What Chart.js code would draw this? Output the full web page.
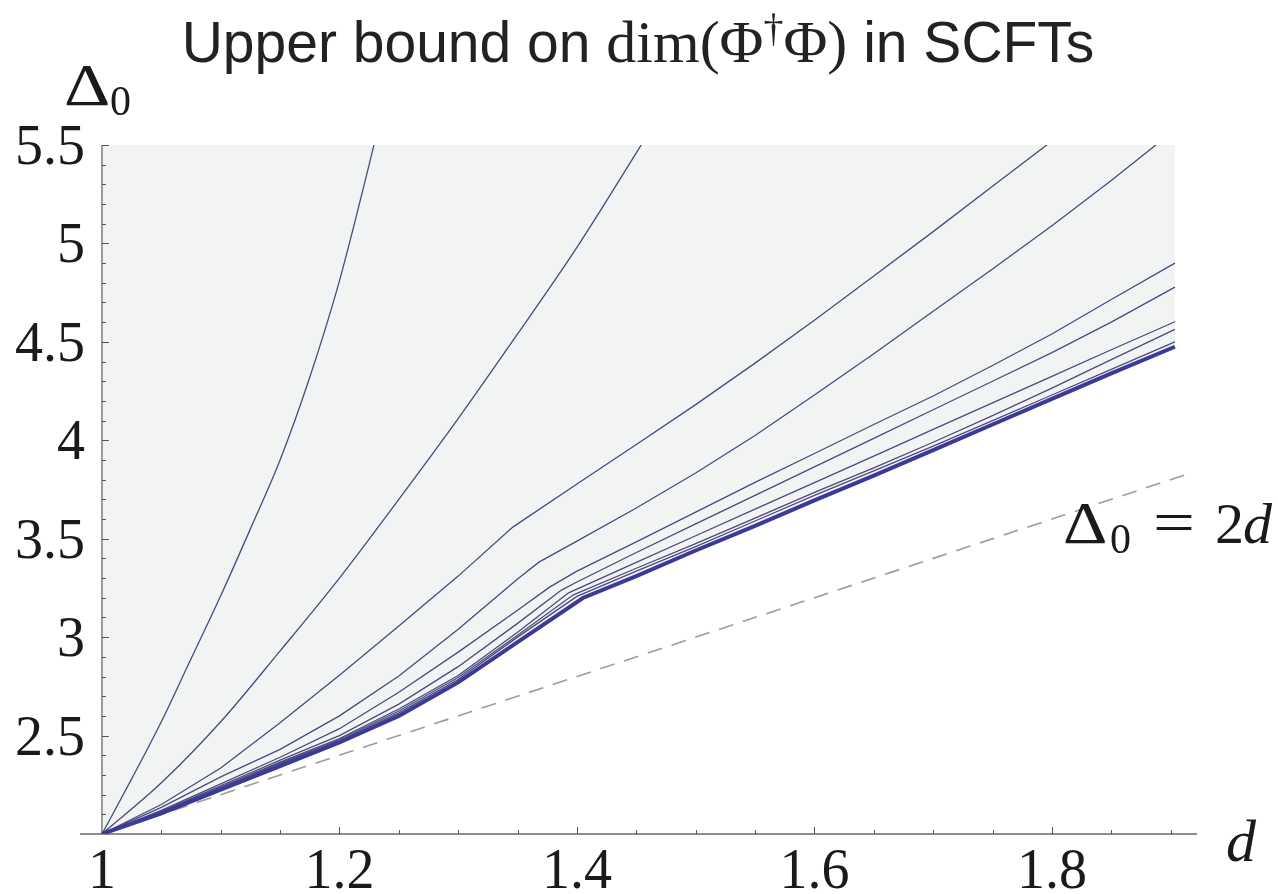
<!DOCTYPE html>
<html lang="en">
<head>
    <meta charset="UTF-8">
    <title>Upper bound on dim(Φ†Φ) in SCFTs</title>
    <script src="https://cdn.jsdelivr.net/npm/chart.js@4.4.1/dist/chart.umd.min.js"></script>
    <style>
        html, body { margin: 0; padding: 0; background: #fff; }
        canvas { display: block; }
    </style>
</head>
<body>
    <canvas id="boundChart" width="1278" height="894"></canvas>

    <script>
        // Bounds on Δ0 as a function of d, one curve per truncation order
        const line1 = [[1, 2], [1.025, 2.28], [1.05, 2.57], [1.075, 2.89], [1.1, 3.21], [1.125, 3.55], [1.15, 3.90], [1.175, 4.32], [1.2, 4.81], [1.225, 5.40], [1.25, 6.02]];
        const line2 = [[1, 2], [1.05, 2.26], [1.1, 2.57], [1.15, 2.93], [1.2, 3.30], [1.25, 3.70], [1.3, 4.11], [1.35, 4.54], [1.4, 4.98], [1.45, 5.46], [1.5, 5.95]];
        const line3 = [[1, 2], [1.05, 2.15], [1.1, 2.335], [1.15, 2.565], [1.2, 2.806], [1.25, 3.056], [1.3, 3.31], [1.346, 3.559], [1.4, 3.778], [1.45, 3.979], [1.5, 4.181], [1.55, 4.392], [1.6, 4.61], [1.65, 4.835], [1.7, 5.06], [1.75, 5.29], [1.8, 5.52], [1.85, 5.75]];
        const line4 = [[1, 2], [1.05, 2.135], [1.1, 2.29], [1.15, 2.43], [1.2, 2.60], [1.25, 2.803], [1.3, 3.04], [1.35, 3.295], [1.368, 3.381], [1.4, 3.488], [1.45, 3.656], [1.5, 3.834], [1.55, 4.024], [1.6, 4.23], [1.65, 4.44], [1.7, 4.655], [1.75, 4.87], [1.8, 5.09], [1.85, 5.32], [1.9, 5.56]];
        const line5 = [[1, 2], [1.05, 2.12], [1.1, 2.255], [1.15, 2.39], [1.2, 2.535], [1.25, 2.72], [1.3, 2.924], [1.35, 3.137], [1.377, 3.254], [1.4, 3.335], [1.45, 3.484], [1.5, 3.635], [1.55, 3.786], [1.6, 3.933], [1.65, 4.08], [1.7, 4.225], [1.75, 4.38], [1.8, 4.54], [1.85, 4.715], [1.9036, 4.90]];
        const line6 = [[1, 2], [1.05, 2.115], [1.1, 2.245], [1.15, 2.375], [1.2, 2.50], [1.25, 2.66], [1.3, 2.85], [1.35, 3.07], [1.387, 3.239], [1.4, 3.28], [1.45, 3.43], [1.5, 3.575], [1.55, 3.72], [1.6, 3.865], [1.65, 4.01], [1.7, 4.155], [1.75, 4.30], [1.8, 4.445], [1.85, 4.60], [1.9036, 4.778]];
        const line7 = [[1, 2], [1.05, 2.112], [1.1, 2.24], [1.15, 2.365], [1.2, 2.485], [1.25, 2.635], [1.3, 2.805], [1.35, 3.025], [1.393, 3.225], [1.45, 3.38], [1.5, 3.515], [1.55, 3.65], [1.6, 3.785], [1.65, 3.92], [1.7, 4.055], [1.75, 4.19], [1.8, 4.325], [1.85, 4.46], [1.9036, 4.602]];
        const line8 = [[1, 2], [1.05, 2.11], [1.1, 2.235], [1.15, 2.36], [1.2, 2.48], [1.25, 2.625], [1.3, 2.795], [1.35, 3.01], [1.397, 3.215], [1.45, 3.35], [1.5, 3.475], [1.55, 3.605], [1.6, 3.735], [1.65, 3.86], [1.7, 3.99], [1.75, 4.125], [1.8, 4.265], [1.85, 4.41], [1.9036, 4.563]];
        const line9 = [[1, 2], [1.05, 2.108], [1.1, 2.23], [1.15, 2.355], [1.2, 2.475], [1.25, 2.615], [1.3, 2.785], [1.35, 3.00], [1.40, 3.207], [1.45, 3.335], [1.5, 3.46], [1.55, 3.59], [1.6, 3.72], [1.65, 3.845], [1.7, 3.97], [1.75, 4.10], [1.8, 4.23], [1.85, 4.36], [1.9036, 4.50]];
        // strongest bound (thick curve), region above it is excluded
        const bestBound = [[1, 2], [1.05, 2.105], [1.1, 2.225], [1.15, 2.345], [1.2, 2.465], [1.25, 2.60], [1.3, 2.77], [1.35, 2.975], [1.405, 3.199], [1.45, 3.31], [1.5, 3.44], [1.55, 3.565], [1.6, 3.695], [1.65, 3.82], [1.7, 3.95], [1.75, 4.08], [1.8, 4.21], [1.85, 4.34], [1.9036, 4.475]];
        // free-theory line Δ0 = 2d
        const freeLine = [[1, 2], [1.912, 3.824]];

        const xTickValues = [1, 1.2, 1.4, 1.6, 1.8];
        const xTickLabels = ['1', '1.2', '1.4', '1.6', '1.8'];
        const yTickValues = [2.5, 3, 3.5, 4, 4.5, 5, 5.5];
        const yTickLabels = ['2.5', '3', '3.5', '4', '4.5', '5', '5.5'];

        const SERIF = '"Liberation Serif", "DejaVu Serif", serif';
        const SANS = '"Liberation Sans", "DejaVu Sans", sans-serif';
        const thinColor = '#4a4a7c';

        const toPoints = arr => arr.map(([x, y]) => ({x, y}));

        // text stretched horizontally (CM capitals are wider than Times)
        function wideText(ctx, text, x, y, font, sx) {
            ctx.save();
            ctx.font = font;
            ctx.translate(x, y);
            ctx.scale(sx, 1);
            ctx.fillText(text, 0, 0);
            ctx.restore();
        }

        // Axes through the origin (1, 2) with inward ticks, drawn like a Mathematica plot
        const mathAxes = {
            id: 'mathAxes',
            beforeDatasetsDraw(chart) {
                const {ctx, scales: {x, y}} = chart;
                const ox = x.getPixelForValue(1);
                const oy = y.getPixelForValue(2);
                ctx.save();
                ctx.strokeStyle = '#6a6a6a';
                ctx.lineWidth = 1.3;
                ctx.beginPath();
                ctx.moveTo(x.left, oy);
                ctx.lineTo(x.right, oy);
                ctx.moveTo(ox, oy);
                ctx.lineTo(ox, y.top);
                ctx.stroke();

                ctx.lineWidth = 1;
                ctx.strokeStyle = '#555';
                ctx.beginPath();
                for (let i = 21; i <= 38; i++) {
                    const px = Math.round(x.getPixelForValue(i / 20)) + 0.5;
                    const len = i % 4 === 0 ? 7 : 4;
                    ctx.moveTo(px, oy);
                    ctx.lineTo(px, oy - len);
                }
                for (let i = 21; i <= 55; i++) {
                    const py = Math.round(y.getPixelForValue(i / 10)) + 0.5;
                    const len = i % 5 === 0 ? 7 : 4;
                    ctx.moveTo(ox, py);
                    ctx.lineTo(ox + len, py);
                }
                ctx.stroke();
                ctx.restore();
            },
            afterDraw(chart) {
                const {ctx, scales: {x, y}} = chart;
                const ox = x.getPixelForValue(1);
                ctx.save();
                ctx.fillStyle = '#1a1a1a';
                ctx.textBaseline = 'alphabetic';

                // tick labels
                ctx.font = `56px ${SERIF}`;
                ctx.textAlign = 'right';
                yTickValues.forEach((v, i) => {
                    ctx.fillText(yTickLabels[i], ox - 17, y.getPixelForValue(v) + 19);
                });
                ctx.textAlign = 'center';
                xTickValues.forEach((v, i) => {
                    ctx.fillText(xTickLabels[i], x.getPixelForValue(v), 888);
                });

                // axis labels
                ctx.textAlign = 'left';
                wideText(ctx, 'Δ', 64, 105, `60px ${SERIF}`, 1.2);
                ctx.font = `42px ${SERIF}`;
                ctx.fillText('0', 110, 115);
                ctx.font = `italic 60px ${SERIF}`;
                ctx.fillText('d', 1226, 861);

                // line annotation Δ0 = 2d
                wideText(ctx, 'Δ', 1063, 543, `60px ${SERIF}`, 1.15);
                ctx.font = `42px ${SERIF}`;
                ctx.fillText('0', 1110, 553);
                wideText(ctx, '=', 1153, 543, `62px ${SERIF}`, 1.2);
                ctx.font = `58px ${SERIF}`;
                ctx.fillText('2', 1215, 543);
                ctx.font = `italic 58px ${SERIF}`;
                ctx.fillText('d', 1243, 543);

                // title with mixed text / math fonts
                const segs = [
                    {t: 'Upper bound on ', f: `57px ${SANS}`, dy: 0},
                    {t: 'dim(Φ', f: `60px ${SERIF}`, dy: 0},
                    {t: '†', f: `40px ${SERIF}`, dy: -21},
                    {t: 'Φ)', f: `60px ${SERIF}`, dy: 0},
                    {t: ' in SCFTs', f: `57px ${SANS}`, dy: 0}
                ];
                let total = 0;
                segs.forEach(s => { ctx.font = s.f; s.w = ctx.measureText(s.t).width; total += s.w; });
                let cx = 638 - total / 2;
                ctx.fillStyle = '#222';
                segs.forEach(s => {
                    ctx.font = s.f;
                    ctx.fillText(s.t, cx, 62 + s.dy);
                    cx += s.w;
                });
                ctx.restore();
            }
        };

        const thin = (data, smooth) => ({
            data: toPoints(data),
            borderColor: thinColor,
            borderWidth: 1.3,
            pointRadius: 0,
            tension: 0,
            cubicInterpolationMode: smooth ? 'monotone' : 'default',
            fill: false
        });

        new Chart(document.getElementById('boundChart'), {
            type: 'line',
            data: {
                datasets: [
                    {
                        data: toPoints(bestBound),
                        borderColor: '#3a3a9a',
                        borderWidth: 4,
                        pointRadius: 0,
                        tension: 0,
                        fill: 'end',
                        backgroundColor: '#f2f4f4'
                    },
                    thin(line9), thin(line8), thin(line7), thin(line6), thin(line5),
                    thin(line4), thin(line3), thin(line2, true), thin(line1, true),
                    {
                        data: toPoints(freeLine),
                        borderColor: '#9c9c9c',
                        borderWidth: 1.6,
                        borderDash: [15, 10],
                        pointRadius: 0,
                        fill: false
                    }
                ]
            },
            options: {
                responsive: false,
                animation: false,
                devicePixelRatio: 1,
                events: [],
                layout: { padding: { left: 80, right: 81, top: 145, bottom: 60 } },
                scales: {
                    x: { type: 'linear', min: 0.9815, max: 1.9222, display: false },
                    y: { type: 'linear', min: 2, max: 5.5, display: false }
                },
                plugins: {
                    legend: { display: false },
                    tooltip: { enabled: false },
                    filler: { drawTime: 'beforeDatasetsDraw' }
                }
            },
            plugins: [mathAxes]
        });
    </script>
</body>
</html>
